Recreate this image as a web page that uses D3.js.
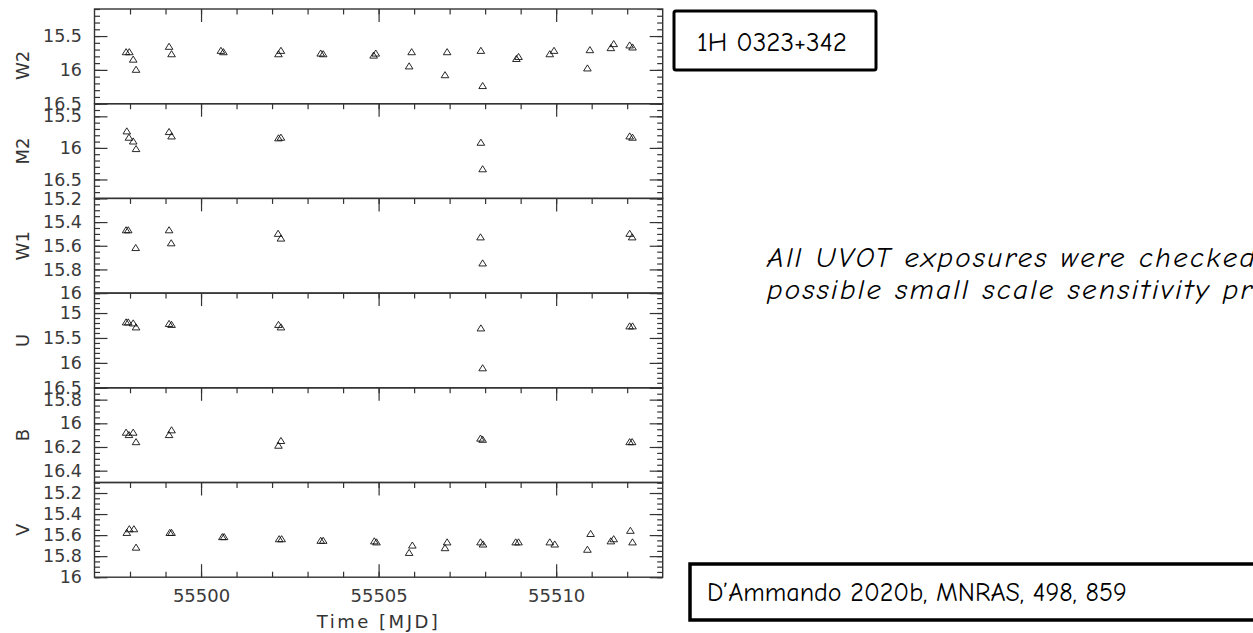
<!DOCTYPE html>
<html>
<head>
<meta charset="utf-8">
<script src="https://cdn.jsdelivr.net/npm/d3@7"></script>
<style>
  html, body { margin: 0; padding: 0; background: #fff; }
  svg { display: block; }
  .tick text { font-family: "DejaVu Sans", sans-serif; fill: #3a3a3a; }
  .axis path.domain { display: none; }
  .axis line { stroke: #333; stroke-width: 1.2; }
</style>
</head>
<body>
<svg id="chart" width="1253" height="633"></svg>
<script>
// ---- Swift/UVOT light curves of 1H 0323+342 (magnitudes vs MJD) ----

const bands = ["W2", "M2", "W1", "U", "B", "V"];

// time axis
const timeDomain = [55497, 55513];
const timeMajorTicks = [55500, 55505, 55510];

// magnitude range of each panel (bright at top)
const w2Range = [15.1, 16.5];
const m2Range = [15.3, 16.8];
const w1Range = [15.2, 16.0];
const uRange  = [14.6, 16.5];
const bRange  = [15.7, 16.5];
const vRange  = [15.1, 16.0];

// labelled magnitude ticks per panel
const w2Ticks = [15.5, 16, 16.5];
const m2Ticks = [15.5, 16, 16.5];
const w1Ticks = [15.2, 15.4, 15.6, 15.8, 16];
const uTicks  = [15, 15.5, 16, 16.5];
const bTicks  = [15.8, 16, 16.2, 16.4];
const vTicks  = [15.2, 15.4, 15.6, 15.8, 16];

// minor magnitude tick step per panel
const minorSteps = [0.1, 0.1, 0.05, 0.1, 0.05, 0.05];

// UVW2
const w2Time = [55497.89, 55497.98, 55498.09, 55498.17, 55499.10, 55499.17, 55500.56, 55500.63,
                55502.18, 55502.25, 55503.37, 55503.44, 55504.86, 55504.92, 55505.86, 55505.93,
                55506.87, 55506.93, 55507.88, 55507.93, 55508.88, 55508.94, 55509.82, 55509.94,
                55510.88, 55510.95, 55511.54, 55511.62, 55512.07, 55512.15];
const w2Mag  = [15.74, 15.74, 15.85, 16.00, 15.66, 15.77, 15.72, 15.74,
                15.77, 15.72, 15.76, 15.77, 15.79, 15.76, 15.95, 15.74,
                16.08, 15.74, 15.72, 16.24, 15.84, 15.81, 15.77, 15.72,
                15.98, 15.71, 15.68, 15.62, 15.64, 15.67];

// UVM2
const m2Time = [55497.91, 55497.97, 55498.09, 55498.17, 55499.10, 55499.17, 55502.18, 55502.25,
                55507.88, 55507.93, 55512.07, 55512.15];
const m2Mag  = [15.74, 15.84, 15.90, 16.02, 15.75, 15.82, 15.85, 15.84,
                15.92, 16.34, 15.82, 15.84];

// UVW1
const w1Time = [55497.89, 55497.95, 55498.16, 55499.10, 55499.16, 55502.17, 55502.25,
                55507.87, 55507.93, 55512.07, 55512.14];
const w1Mag  = [15.47, 15.47, 15.62, 15.47, 15.58, 15.50, 15.54,
                15.53, 15.75, 15.50, 15.53];

// U
const uTime = [55497.89, 55497.95, 55498.09, 55498.17, 55499.10, 55499.17, 55502.18, 55502.25,
               55507.88, 55507.93, 55512.07, 55512.15];
const uMag  = [15.19, 15.19, 15.21, 15.29, 15.22, 15.24, 15.24, 15.29,
               15.31, 16.11, 15.27, 15.27];

// B
const bTime = [55497.89, 55497.97, 55498.09, 55498.17, 55499.10, 55499.17, 55502.18, 55502.25,
               55507.87, 55507.93, 55512.07, 55512.14];
const bMag  = [16.08, 16.10, 16.08, 16.16, 16.10, 16.06, 16.19, 16.15,
               16.13, 16.14, 16.16, 16.16];

// V
const vTime = [55497.91, 55497.98, 55498.11, 55498.17, 55499.12, 55499.17, 55500.60, 55500.65,
               55502.20, 55502.27, 55503.37, 55503.44, 55504.88, 55504.94, 55505.86, 55505.95,
               55506.87, 55506.93, 55507.87, 55507.94, 55508.86, 55508.94, 55509.82, 55509.96,
               55510.88, 55510.97, 55511.54, 55511.62, 55512.09, 55512.15];
const vMag  = [15.58, 15.545, 15.545, 15.72, 15.58, 15.58, 15.62, 15.62,
               15.64, 15.64, 15.655, 15.655, 15.66, 15.67, 15.77, 15.70,
               15.725, 15.67, 15.67, 15.69, 15.67, 15.67, 15.67, 15.69,
               15.74, 15.59, 15.66, 15.64, 15.56, 15.67];

const sourceName = "1H 0323+342";
const noteLines = ["All UVOT exposures were checked for", "possible small scale sensitivity problems"];
const reference = "D\u2019Ammando 2020b, MNRAS, 498, 859";

const panels = [
  { band: "W2", range: w2Range, ticks: w2Ticks, time: w2Time, mag: w2Mag },
  { band: "M2", range: m2Range, ticks: m2Ticks, time: m2Time, mag: m2Mag },
  { band: "W1", range: w1Range, ticks: w1Ticks, time: w1Time, mag: w1Mag },
  { band: "U",  range: uRange,  ticks: uTicks,  time: uTime,  mag: uMag  },
  { band: "B",  range: bRange,  ticks: bTicks,  time: bTime,  mag: bMag  },
  { band: "V",  range: vRange,  ticks: vTicks,  time: vTime,  mag: vMag  }
];

// ---- layout ----
const plotLeft = 94.5, plotRight = 662.7, plotTop = 9, panelH = 94.7;
const majorLen = 13, minorLen = 5.5;
const ink = "#333";
// vertical nudge of each band label from its panel centre
const bandLabelShift = [9, 0, 0, 0, 0, 0];

const svg = d3.select("#chart");

const x = d3.scaleLinear().domain(timeDomain).range([plotLeft, plotRight]);
const dayTicks = d3.range(timeDomain[0] + 1, timeDomain[1], 1);

// open triangle marker, a little flatter than equilateral
const openTriangle = {
  draw(ctx, size) {
    const w = Math.sqrt(size), h = w * 0.8;
    ctx.moveTo(0, -h * 0.6);
    ctx.lineTo(w / 2, h * 0.4);
    ctx.lineTo(-w / 2, h * 0.4);
    ctx.closePath();
  }
};
const marker = d3.symbol().type(openTriangle).size(58);

panels.forEach((p, i) => {
  const top = plotTop + i * panelH, bottom = top + panelH;
  const y = d3.scaleLinear().domain(p.range).range([top, bottom]);
  const step = minorSteps[i];
  const minor = d3.range(p.range[0], p.range[1] + 1e-6, step).map(v => +v.toFixed(3));
  const major = p.ticks;
  const g = svg.append("g");

  // left: major ticks with labels, minor ticks without
  g.append("g").attr("class", "axis").attr("transform", `translate(${plotLeft},0)`)
    .call(d3.axisLeft(y).tickValues(minor).tickSizeInner(-minorLen).tickSizeOuter(0).tickFormat(""));
  g.append("g").attr("class", "axis").attr("transform", `translate(${plotLeft},0)`)
    .call(d3.axisLeft(y).tickValues(major).tickSizeInner(-majorLen).tickSizeOuter(0)
      .tickPadding(12.5).tickFormat(d3.format("~g")))
    .selectAll("text").style("font-size", "17.5px");

  // right: mirrored ticks
  g.append("g").attr("class", "axis").attr("transform", `translate(${plotRight},0)`)
    .call(d3.axisRight(y).tickValues(minor).tickSizeInner(-minorLen).tickSizeOuter(0).tickFormat(""));
  g.append("g").attr("class", "axis").attr("transform", `translate(${plotRight},0)`)
    .call(d3.axisRight(y).tickValues(major).tickSizeInner(-majorLen).tickSizeOuter(0).tickFormat(""));

  // top of each panel: time ticks pointing down
  g.append("g").attr("class", "axis").attr("transform", `translate(0,${top})`)
    .call(d3.axisBottom(x).tickValues(dayTicks).tickSizeInner(minorLen).tickSizeOuter(0).tickFormat(""));
  g.append("g").attr("class", "axis").attr("transform", `translate(0,${top})`)
    .call(d3.axisBottom(x).tickValues(timeMajorTicks).tickSizeInner(majorLen).tickSizeOuter(0).tickFormat(""));

  // bottom panel: time ticks pointing up, with labels
  if (i === panels.length - 1) {
    g.append("g").attr("class", "axis").attr("transform", `translate(0,${bottom})`)
      .call(d3.axisBottom(x).tickValues(dayTicks).tickSizeInner(-minorLen).tickSizeOuter(0).tickFormat(""));
    g.append("g").attr("class", "axis").attr("transform", `translate(0,${bottom})`)
      .call(d3.axisBottom(x).tickValues(timeMajorTicks).tickSizeInner(-majorLen).tickSizeOuter(0)
        .tickPadding(12).tickFormat(d3.format("d")))
      .selectAll("text").style("font-size", "18px");
  }

  // frame
  g.append("rect")
    .attr("x", plotLeft).attr("y", top)
    .attr("width", plotRight - plotLeft).attr("height", panelH)
    .attr("fill", "none").attr("stroke", ink).attr("stroke-width", 1.4);

  // band label
  g.append("text")
    .attr("transform", `translate(23,${(top + bottom) / 2 + bandLabelShift[i]}) rotate(-90)`)
    .attr("text-anchor", "middle").attr("dy", "0.36em")
    .style("font-family", "DejaVu Sans, sans-serif").style("font-size", "18px")
    .attr("fill", ink)
    .text(p.band);

  // measurements
  const pts = p.time.map((t, k) => ({ t, m: p.mag[k] }));
  g.append("g").selectAll("path").data(pts).join("path")
    .attr("transform", d => `translate(${x(d.t)},${y(d.m)})`)
    .attr("d", marker)
    .attr("fill", "none").attr("stroke", "#111").attr("stroke-width", 0.9);
});

// x-axis title
svg.append("text")
  .attr("x", (plotLeft + plotRight) / 2).attr("y", 628)
  .attr("text-anchor", "middle")
  .style("font-family", "DejaVu Sans, sans-serif").style("font-size", "18px")
  .style("letter-spacing", "2.5px")
  .attr("fill", ink)
  .text("Time [MJD]");

// ---- annotations ----
const noteFont = "'Comic Sans MS', 'Comic Neue', 'DejaVu Sans', sans-serif";

// source name box
svg.append("rect")
  .attr("x", 674).attr("y", 11).attr("width", 202).attr("height", 59)
  .attr("fill", "#fff").attr("stroke", "#000").attr("stroke-width", 3).attr("rx", 2);
svg.append("text")
  .attr("x", 697).attr("y", 51)
  .style("font-family", noteFont).style("font-size", "27px")
  .attr("fill", "#000")
  .text(sourceName);

// italic note (runs past the right edge)
svg.append("g").selectAll("text").data(noteLines).join("text")
  .attr("x", 767).attr("y", (d, k) => 267 + k * 32)
  .style("font-family", noteFont).style("font-style", "italic").style("font-size", "29px")
  .style("letter-spacing", "2.3px")
  .attr("fill", "#000")
  .text(d => d);

// reference box
svg.append("rect")
  .attr("x", 690).attr("y", 564).attr("width", 600).attr("height", 56)
  .attr("fill", "#fff").attr("stroke", "#000").attr("stroke-width", 3.5);
svg.append("text")
  .attr("x", 707).attr("y", 601)
  .style("font-family", noteFont).style("font-size", "26px")
  .attr("fill", "#000")
  .text(reference);
</script>
</body>
</html>
